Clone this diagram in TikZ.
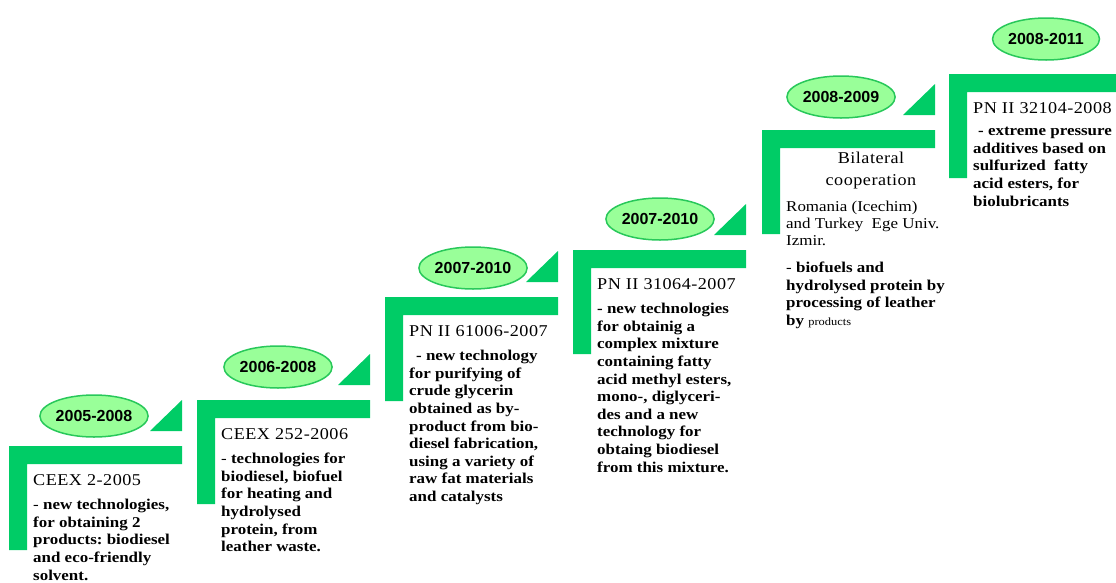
\documentclass[tikz,border=0pt]{standalone}
\usepackage{fontspec}
\setmainfont{Liberation Serif}
\newfontfamily\bodyfont{Liberation Serif}[FakeStretch=1.13]
\newfontfamily\titlefont{Liberation Serif}[FakeStretch=1.1,LetterSpace=3]
\newfontfamily\yearfont{Liberation Sans}
\usetikzlibrary{shapes.geometric}
\definecolor{stepgreen}{RGB}{0,204,102}
\definecolor{yearfill}{RGB}{153,255,153}
\definecolor{yearedge}{RGB}{40,200,90}
\frenchspacing
\begin{document}
\begin{tikzpicture}[x=1pt, y=-1pt, font=\bodyfont,
	bar/.style={fill=stepgreen, draw=none},
	year/.style={ellipse, draw=yearedge, line width=1.5pt, fill=yearfill,
		minimum width=104pt, minimum height=42pt, inner sep=0pt,
		font=\yearfont\bfseries\fontsize{16}{18}\selectfont},
	title/.style={anchor=west, inner sep=0pt,
		font=\titlefont\fontsize{16.5}{22}\selectfont},
	body/.style={anchor=north west, inner sep=0pt, align=left,
		font=\bodyfont\bfseries\fontsize{15}{17.6}\selectfont}]
	\useasboundingbox (0,0) rectangle (1116,582);
	%steps
	\foreach \bx/\by/\ex/\ey/\yrs [count=\i] in {
		9/446/94/416/2005-2008,
		197/400/278/367/2006-2008,
		385/297/473/268/2007-2010,
		573/250/660/219/2007-2010,
		762/130/841/97/2008-2009,
		949/74/1046/39/2008-2011
	}{
		\fill[bar] (\bx,\by) -- ++(173,0) -- ++(0,18) -- ++(-155,0)
		-- ++(0,86) -- ++(-18,0) -- cycle;
		\ifnum\i<6
		\fill[bar] (\bx+141,\by-15) -- (\bx+173,\by-15) -- (\bx+173,\by-46) -- cycle;
		\fi
		\node[year] (y\i) at (\ex,\ey) {\yrs};
	}
	%texts
	\node[title] (t1) at (33,480) {CEEX 2-2005};
	\node[body] (b1) at (33,499) {{\mdseries -} new technologies,\\for obtaining 2\\
		products: biodiesel\\and eco-friendly\\solvent.};
	\node[title] (t2) at (221,434) {CEEX 252-2006};
	\node[body] (b2) at (221,453) {{\mdseries -} technologies for\\biodiesel, biofuel\\
		for heating and\\hydrolysed\\protein, from\\leather waste.};
	\node[title] (t3) at (409,331) {PN II 61006-2007};
	\node[body] (b3) at (409,350) {\hspace*{7pt}- new technology\\for purifying\ of\\
		crude glycerin\\obtained as by-\\product\ from bio-\\diesel fabrication,\\
		using\ a variety of\\raw fat materials\\and catalysts};
	\node[title] (t4) at (597,284) {PN II 31064-2007};
	\node[body] (b4) at (597,303) {- new technologies\\for obtainig a\\complex mixture\\
		containing fatty\\acid methyl esters,\\mono-, diglyceri-\\des and a new\\
		technology for\\obtaing biodiesel\\from this mixture.};
	\node[title, anchor=center, align=center] (t5) at (871,171) {Bilateral\\cooperation};
	\node[body, font=\bodyfont\fontsize{15}{17}\selectfont] (p5) at (786,201)
		{Romania (Icechim)\\and Turkey\ \ Ege Univ.\\Izmir.};
	\node[body] (b5) at (786,262) {{\mdseries -} biofuels and\\hydrolysed protein by\\
		processing of leather\\by {\mdseries\fontsize{11}{17.6}\selectfont products}};
	\node[title] (t6) at (973,108) {PN II 32104-2008};
	\node[body] (b6) at (973,127) {\hspace*{5pt}- extreme pressure\\additives based on\\
		sulfurized\ \ fatty\\acid esters, for\\biolubricants};
\end{tikzpicture}
\end{document}
